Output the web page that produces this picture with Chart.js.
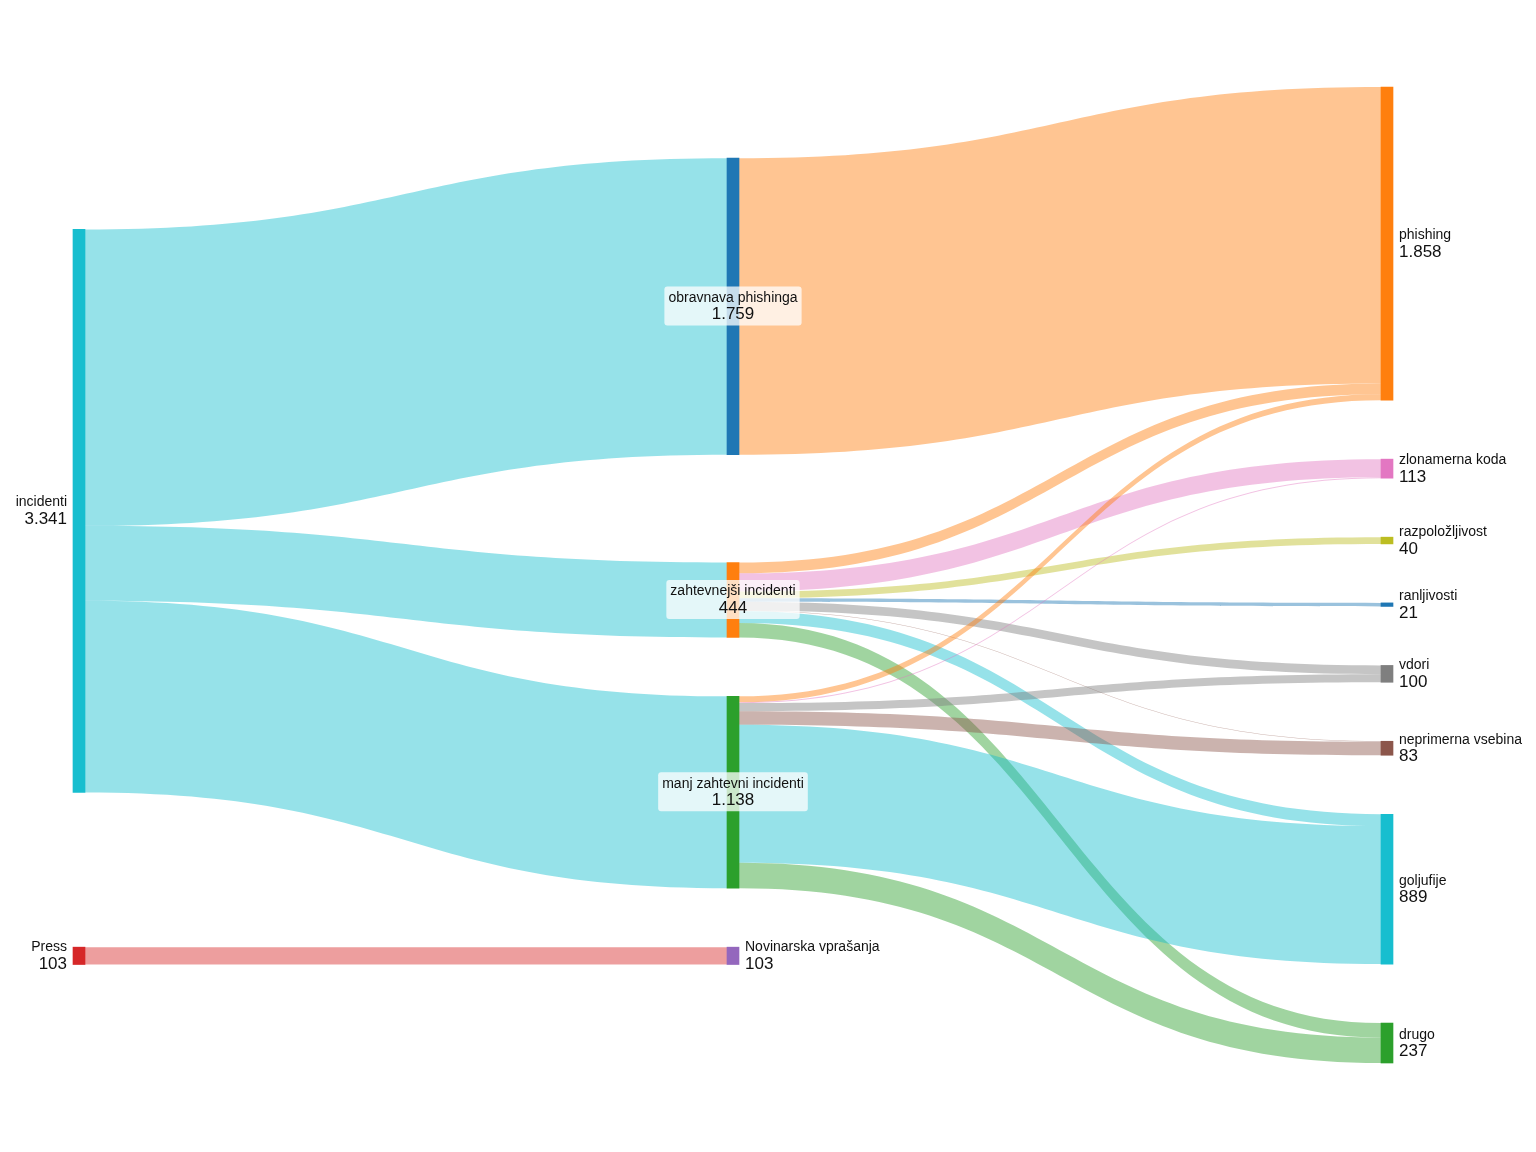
<!DOCTYPE html>
<html>
<head>
<meta charset="utf-8">
<title>Sankey</title>
<script src="https://cdn.jsdelivr.net/npm/chart.js@4.4.1/dist/chart.umd.min.js"></script>
<style>
  html, body { margin: 0; padding: 0; background: #fff; }
  #wrap { width: 1536px; height: 1152px; position: relative; }
</style>
</head>
<body>
<div id="wrap"><canvas id="sankey"></canvas></div>
<script>
// nodes
const nodeNames = [
  "incidenti", "Press",
  "obravnava phishinga", "zahtevnejši incidenti", "manj zahtevni incidenti", "Novinarska vprašanja",
  "phishing", "zlonamerna koda", "razpoložljivost", "ranljivosti", "vdori",
  "neprimerna vsebina", "goljufije", "drugo"
];
const nodeColors = [
  "#17becf", "#d62728",
  "#1f77b4", "#ff7f0e", "#2ca02c", "#9467bd",
  "#ff7f0e", "#e377c2", "#bcbd22", "#1f77b4", "#7f7f7f",
  "#8c564b", "#17becf", "#2ca02c"
];

// links (indices into nodeNames)
const linkSource = [0, 0, 0, 1, 2, 3, 3, 3, 3, 3, 3, 3, 3, 4, 4, 4, 4, 4, 4];
const linkTarget = [2, 3, 4, 5, 6, 6, 7, 8, 9, 10, 11, 12, 13, 6, 7, 10, 11, 12, 13];
const linkValue = [1759, 444, 1138, 103, 1759, 64, 108, 40, 21, 52, 3, 70, 86, 35, 5, 48, 80, 819, 151];

const NODE_PAD = 350;   // gap between nodes, in value units
const NODE_WIDTH = 12;
const LINK_ALPHA = 0.45;

function hexA(hex, a) {
  const n = parseInt(hex.slice(1), 16);
  return `rgba(${(n >> 16) & 255},${(n >> 8) & 255},${n & 255},${a})`;
}
function fmt(v) {
  return String(v).replace(/\B(?=(\d{3})+(?!\d))/g, ".");
}
const sum = (arr, f) => arr.reduce((s, x) => s + f(x), 0);

function buildSankey() {
  const nodes = nodeNames.map((name, i) => ({ i, name, ins: [], outs: [], col: 0 }));
  const links = linkValue.map((v, k) => ({ s: nodes[linkSource[k]], t: nodes[linkTarget[k]], v }));
  links.forEach(l => { l.s.outs.push(l); l.t.ins.push(l); });
  nodes.forEach(n => { n.value = Math.max(sum(n.ins, l => l.v), sum(n.outs, l => l.v)); });

  let changed = true;
  while (changed) {
    changed = false;
    links.forEach(l => { if (l.t.col < l.s.col + 1) { l.t.col = l.s.col + 1; changed = true; } });
  }
  const nCols = Math.max(...nodes.map(n => n.col)) + 1;
  const columns = Array.from({ length: nCols }, () => []);
  nodes.forEach(n => columns[n.col].push(n));
  const H = Math.max(...columns.map(c => sum(c, n => n.value) + (c.length - 1) * NODE_PAD));

  columns.forEach(c => {
    let y = 0;
    c.forEach(n => { n.y0 = y; n.y1 = y + n.value; y = n.y1 + NODE_PAD; });
  });

  const center = n => (n.y0 + n.y1) / 2;
  function stackLinks() {
    nodes.forEach(n => {
      n.outs.sort((a, b) => center(a.t) - center(b.t));
      n.ins.sort((a, b) => center(a.s) - center(b.s));
      let y = n.y0;
      n.outs.forEach(l => { l.sy = y; y += l.v; });
      y = n.y0;
      n.ins.forEach(l => { l.ty = y; y += l.v; });
    });
  }

  // weighted isotonic fit of a column, keeping order and padding
  function fitColumn(col) {
    let off = 0;
    const items = col.map(n => { const it = { n, off }; off += n.value + NODE_PAD; return it; });
    const last = items[items.length - 1];
    const hi = H - (last.off + last.n.value);
    const blocks = [];
    items.forEach(it => {
      blocks.push({ s: (it.n.want - it.off) * it.n.value, w: it.n.value, items: [it] });
      while (blocks.length > 1) {
        const b = blocks[blocks.length - 1], a = blocks[blocks.length - 2];
        if (a.s / a.w <= b.s / b.w) break;
        a.s += b.s; a.w += b.w; a.items = a.items.concat(b.items);
        blocks.pop();
      }
    });
    blocks.forEach(b => {
      const u = Math.min(Math.max(b.s / b.w, 0), Math.max(hi, 0));
      b.items.forEach(it => { it.n.y0 = it.off + u; it.n.y1 = it.n.y0 + it.n.value; });
    });
  }

  for (let it = 0; it < 300; it++) {
    columns.forEach(col => {
      stackLinks();
      col.forEach(n => {
        const parts = [];
        if (n.ins.length) parts.push(sum(n.ins, l => (l.sy + l.v / 2) * l.v) / sum(n.ins, l => l.v));
        if (n.outs.length) parts.push(sum(n.outs, l => (l.ty + l.v / 2) * l.v) / sum(n.outs, l => l.v));
        const c = parts.reduce((a, b) => a + b, 0) / parts.length;
        n.want = c - n.value / 2;
      });
      fitColumn(col);
    });
  }
  stackLinks();
  return { nodes, links, nCols, H };
}

const sk = buildSankey();

const linkPlugin = {
  id: "sankeyLinks",
  beforeDatasetsDraw(chart) {
    const { ctx, scales: { x, y } } = chart;
    ctx.save();
    sk.links.forEach(l => {
      const x0 = x.getPixelForValue(l.s.col) + NODE_WIDTH / 2;
      const x1 = x.getPixelForValue(l.t.col) - NODE_WIDTH / 2;
      const xm = (x0 + x1) / 2;
      const s0 = y.getPixelForValue(l.sy), s1 = y.getPixelForValue(l.sy + l.v);
      const t0 = y.getPixelForValue(l.ty), t1 = y.getPixelForValue(l.ty + l.v);
      const base = l.s.col === 0 ? nodeColors[l.s.i] : nodeColors[l.t.i];
      ctx.fillStyle = hexA(base, LINK_ALPHA);
      ctx.beginPath();
      ctx.moveTo(x0, s0);
      ctx.bezierCurveTo(xm, s0, xm, t0, x1, t0);
      ctx.lineTo(x1, t1);
      ctx.bezierCurveTo(xm, t1, xm, s1, x0, s1);
      ctx.closePath();
      ctx.fill();
    });
    ctx.restore();
  }
};

const labelPlugin = {
  id: "sankeyLabels",
  afterDatasetsDraw(chart) {
    const { ctx, scales: { x, y } } = chart;
    const nameFont = "14px 'Liberation Sans', Arial, sans-serif";
    const valFont = "17px 'Liberation Sans', Arial, sans-serif";
    ctx.save();
    ctx.textBaseline = "alphabetic";
    sk.nodes.forEach(n => {
      const cx = x.getPixelForValue(n.col);
      const cy = y.getPixelForValue((n.y0 + n.y1) / 2);
      const val = fmt(n.value);
      if (n.col === 0) {
        ctx.textAlign = "right";
        ctx.fillStyle = "#111";
        ctx.font = nameFont; ctx.fillText(n.name, cx - NODE_WIDTH / 2 - 6, cy - 5);
        ctx.font = valFont; ctx.fillText(val, cx - NODE_WIDTH / 2 - 6, cy + 13);
      } else if (n.col === sk.nCols - 1 || !n.outs.length) {
        ctx.textAlign = "left";
        ctx.fillStyle = "#111";
        ctx.font = nameFont; ctx.fillText(n.name, cx + NODE_WIDTH / 2 + 6, cy - 4.5);
        ctx.font = valFont; ctx.fillText(val, cx + NODE_WIDTH / 2 + 6, cy + 13);
      } else {
        ctx.font = nameFont;
        const w1 = ctx.measureText(n.name).width;
        ctx.font = valFont;
        const w2 = ctx.measureText(val).width;
        const w = Math.max(w1, w2) + 8;
        ctx.fillStyle = "rgba(255,255,255,0.75)";
        ctx.beginPath();
        ctx.roundRect(cx - w / 2, cy - 20, w, 39, 3);
        ctx.fill();
        ctx.textAlign = "center";
        ctx.fillStyle = "#111";
        ctx.font = nameFont; ctx.fillText(n.name, cx, cy - 4.5);
        ctx.font = valFont; ctx.fillText(val, cx, cy + 13);
      }
    });
    ctx.restore();
  }
};

new Chart(document.getElementById("sankey"), {
  type: "bar",
  data: {
    datasets: [{
      label: "nodes",
      data: sk.nodes.map(n => ({ x: n.col, y: [n.y0, n.y1] })),
      backgroundColor: sk.nodes.map(n => nodeColors[n.i]),
      borderWidth: 0,
      barThickness: NODE_WIDTH,
      clip: false
    }]
  },
  options: {
    responsive: true,
    maintainAspectRatio: false,
    animation: false,
    layout: { padding: { left: 79, right: 149, top: 87, bottom: 89 } },
    scales: {
      x: { type: "linear", min: 0, max: sk.nCols - 1, offset: false, display: false },
      y: { type: "linear", min: 0, max: sk.H, reverse: true, display: false }
    },
    plugins: {
      legend: { display: false },
      tooltip: { enabled: false }
    }
  },
  plugins: [linkPlugin, labelPlugin]
});
</script>
</body>
</html>
